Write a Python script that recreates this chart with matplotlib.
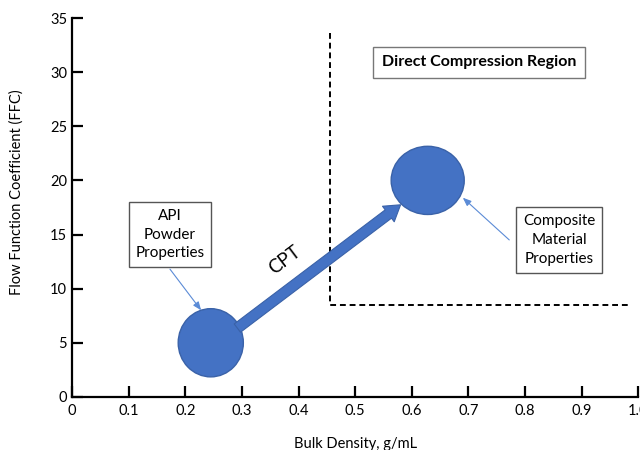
import numpy as np
import matplotlib.pyplot as plt
from matplotlib.patches import Ellipse, FancyArrowPatch

plt.rcParams['font.family'] = ['Lato', 'DejaVu Sans']

# 数据
x_ticks = [0, 0.1, 0.2, 0.3, 0.4, 0.5, 0.6, 0.7, 0.8, 0.9, 1.0]
x_tick_labels = ['0', '0.1', '0.2', '0.3', '0.4', '0.5', '0.6', '0.7', '0.8', '0.9', '1.0']
y_ticks = [0, 5, 10, 15, 20, 25, 30, 35]

# 两个圆: API 粉末 与 复合材料
points_x = [0.245, 0.628]
points_y = [5.0, 20.0]
points_w = [0.115, 0.129]
points_h = [6.3, 6.3]

# CPT 箭头
cpt_start = (0.288, 6.2)
cpt_end = (0.584, 17.9)

# 直接压片区域边界
dc_x = 0.455
dc_y = 8.5
dc_top = 33.6
dc_right = 0.984

blue = '#4472C4'
edge = '#3A62A8'

fig = plt.figure(figsize=(6.4, 4.5), dpi=100)
ax = fig.add_axes([0.1125, 0.118, 0.885, 0.842])
ax.set_xlim(0, 1.0)
ax.set_ylim(0, 35)
ax.set_xticks(x_ticks)
ax.set_xticklabels(x_tick_labels)
ax.set_yticks(y_ticks)

for s in ['top', 'right']:
    ax.spines[s].set_visible(False)
for s in ['left', 'bottom']:
    ax.spines[s].set_linewidth(1.6)
ax.tick_params(direction='in', length=8, width=1.6, labelsize=10.5, colors='black')
ax.tick_params(axis='x', pad=5)

ax.set_xlabel('Bulk Density, g/mL', fontsize=10.5, labelpad=14)
ax.set_ylabel('Flow Function Coefficient (FFC)', fontsize=10.5, labelpad=10)
ax.yaxis.set_label_coords(-0.085, 0.54)

# 虚线边界
ax.plot([dc_x, dc_x, dc_right], [dc_top, dc_y, dc_y], color='black', lw=1.4,
        ls=(0, (3, 2)))

# 圆
for px, py, pw, ph in zip(points_x, points_y, points_w, points_h):
    ax.add_patch(Ellipse((px, py), pw, ph, facecolor=blue, edgecolor=edge, lw=1, zorder=3))

# CPT 箭头
arr = FancyArrowPatch(cpt_start, cpt_end,
                      arrowstyle='simple,head_width=1.4,head_length=1.1,tail_width=0.75',
                      mutation_scale=10, facecolor=blue, edgecolor=edge, lw=0.8, zorder=4)
ax.add_patch(arr)
ax.text(0.375, 12.6, 'CPT', fontsize=13.5, rotation=37, ha='center', va='center')

box = dict(boxstyle='square,pad=0.45', facecolor='white', edgecolor='#555555', lw=1)

# 标注框
ax.text(0.719, 30.9, 'Direct Compression Region', fontsize=11.5, fontweight='bold',
        ha='center', va='center', bbox=dict(boxstyle='square,pad=0.55', facecolor='white',
                                             edgecolor='#777777', lw=1))
ax.text(0.173, 15.0, 'API\nPowder\nProperties', fontsize=11, ha='center', va='center',
        linespacing=1.45, bbox=box)
ax.text(0.86, 14.5, 'Composite\nMaterial\nProperties', fontsize=11, ha='center', va='center',
        linespacing=1.45, bbox=box)

thin = dict(arrowstyle='-|>,head_length=0.5,head_width=0.2', color='#5B8BD6', lw=0.8,
            shrinkA=0, shrinkB=0)
ax.annotate('', xy=(0.228, 8.0), xytext=(0.173, 11.8), arrowprops=thin)
ax.annotate('', xy=(0.69, 18.4), xytext=(0.772, 14.5), arrowprops=thin)

fig.savefig('out.png', dpi=100)
